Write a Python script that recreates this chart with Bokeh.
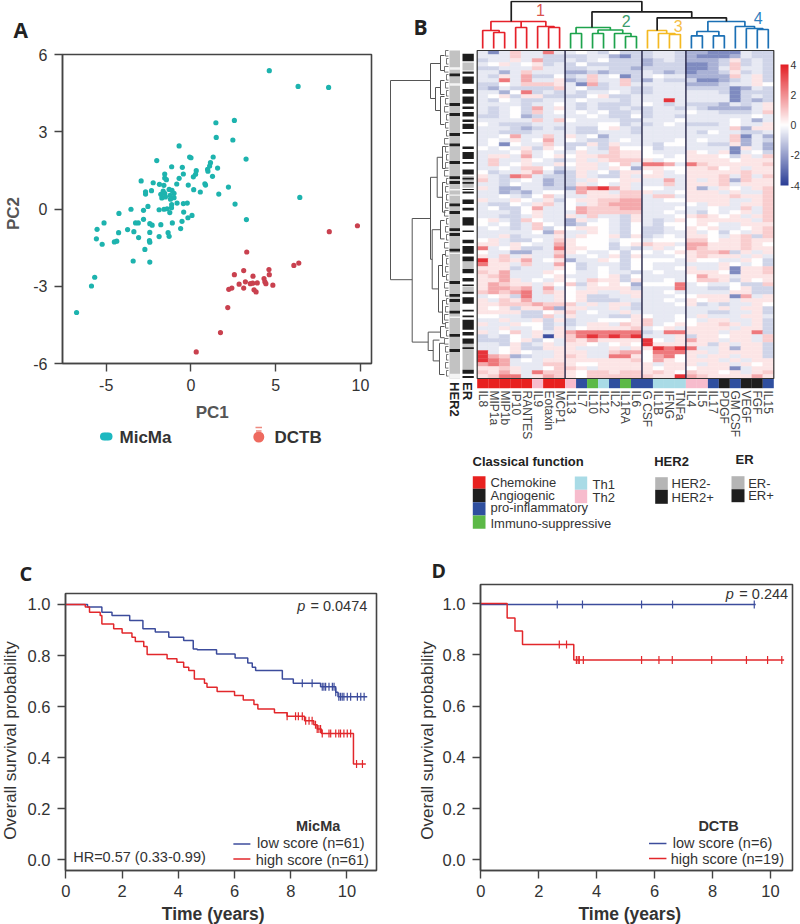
from math import pi
import numpy as np
from bokeh.plotting import figure
from bokeh.layouts import column, row
from bokeh.models import Range1d, Label, FixedTicker, LinearColorMapper, ColorBar, ColumnDataSource, NumeralTickFormatter
from bokeh.core.properties import value
from bokeh.embed import file_html
from bokeh.resources import INLINE

FONT = "Liberation Sans"
HEAD = "Open Sans"
DARK = "#333333"

# ---------- Panel A ----------
MICMA_PC1 = [4.62,6.32,8.12,2.56,1.47,1.49,2.47,-0.70,3.25,1.31,-0.08,0,-2.02,-1.14,-0.51,1.15,1.10,1.57,0.98,1.00,0.31,0.27,0.14,-0.45,1.27,-1.55,-1.55,-1.45,-0.70,-2.94,-2.23,-1.86,-0.84,-0.16,0.82,0.86,2.21,0.16,0.55,1.64,-1.60,-2.68,-2.68,-2.33,-1.64,-1.29,-1.12,-1.00,-1.78,-1.55,-1.72,-1.51,-1.23,-1.00,-1.21,2.60,6.42,-0.82,-1.14,-0.45,-0.22,-2.54,-3.54,-4.25,-2.80,-1.88,-1.59,-1.41,-1.15,-1.25,-0.43,0.06,-0.18,3.27,-2.80,-5.13,-3.27,-3.11,-2.43,-2.29,-1.78,-1.10,-0.53,-5.54,-3.74,-3.37,-4.27,-2.43,-1.35,-0.61,-1.29,-1.88,-3.09,-5.58,-4.38,-4.52,-2.45,-2.43,-5.24,-2.72,-3.41,-2.43,-5.68,-5.87,-6.75]
MICMA_PC2 = [5.37,4.76,4.72,3.44,3.35,2.78,2.68,2.45,1.94,2.02,2.02,1.99,1.88,1.64,1.62,1.80,1.67,1.59,1.54,1.47,1.49,1.35,1.25,1.36,1.27,1.36,1.20,1.14,1.19,1.09,1.02,0.96,0.97,0.93,0.98,0.93,0.85,0.75,0.66,0.58,0.92,0.67,0.58,0.71,0.70,0.76,0.72,0.61,0.57,0.61,0.43,0.47,0.53,0.44,0.38,0.19,0.45,0.23,0.17,0.21,0.23,0.10,-0.01,-0.17,-0.05,-0.03,-0.01,0.01,0.05,-0.14,-0.12,-0.25,-0.34,-0.41,-0.40,-0.54,-0.54,-0.54,-0.57,-0.63,-0.61,-0.54,-0.48,-0.79,-0.80,-0.88,-0.92,-0.91,-0.92,-0.76,-1.06,-1.07,-1.11,-1.16,-1.25,-1.28,-1.23,-1.29,-1.37,-1.57,-2.02,-2.06,-2.65,-2.99,-4.02]
DCTB_PC1 = [9.82,8.16,3.29,6.36,6.07,4.60,3.11,4.62,2.56,3.66,4.31,4.36,3.21,3.64,3.91,3.50,4.42,4.83,2.84,3.11,2.41,2.23,3.72,3.84,2.17,1.74,0.31]
DCTB_PC2 = [-0.65,-0.88,-1.67,-2.10,-2.19,-2.35,-2.39,-2.55,-2.55,-2.61,-2.70,-2.83,-2.83,-2.88,-2.87,-2.90,-2.90,-2.96,-2.92,-3.07,-3.07,-3.12,-3.14,-3.22,-3.83,-4.80,-5.55]

# ---------- Panel B ----------
CYTOKINES = ["IL8","MIP1a","MIP1b","IP10","RANTES","IL9","Eotaxin","MCP1","IL13","IL7","IL10","IL12","IL2","IL1RA","IL6","G CSF","IL1B","IFNG","TNFa","IL4","IL5","IL17","PDGF","GM CSF","VEGF","FGF","IL15"]
FUNCTION = ["chem","chem","chem","chem","chem","th2","chem","chem","th2","pro","imm","th1","pro","imm","pro","pro","th1","th1","th1","th2","th2","pro","ang","pro","ang","ang","pro"]
FUNCTION_COLOR = {"chem":"#e8211f","ang":"#1e1e1e","pro":"#2f4f9f","imm":"#5cb947","th1":"#a9dbe6","th2":"#f7bccd"}
LEVEL = {".":0.0,"a":0.45,"b":0.9,"c":1.5,"d":2.4,"e":3.6,"A":-0.45,"B":-0.9,"C":-1.6,"D":-2.4,"E":-3.6}
HEATMAP_ROWS = [
"ADAbAAdA A.AB.BB BAAB CCDDDABB",
"AAAbAABB BBAACDB BAAB CDDDCABB",
"BAAaAcBB ABA.BBB CBAB CCCBaBAB",
"A.aA.aBA B.BBBBB CBBB DDCBbBAB",
"BBAAAbAA BBAABBC BBBB DDCAbAAB",
"AACAbAAA CCBCBBB ABCB DCCBaBAB",
"ABaAcBB. BAbA.DB A.AA CCCCbAaB",
"AAdAcAAa CBbAAbB CABB BDDCBAaB",
"BB.Abbba ADcBAbA AAAA CCCBAAa.",
"BCABBBBb A.BBAAB BAAA BBBBDCAB",
"AAC.dBAB ABAA.AB BAAA AAABDBBB",
"A.aBaaBB BB.aBBA AAAA AAAADBAB",
"AB.ABBAA A.AAABA AAeA AAAADBCB",
"AAAABAA. ABABBBA .ABA BBBCABAa",
"ABA.BcAa ABABBAB BAAB ABCCCCAa",
"ABA.BbA. A.A.BBA BAAA .AABBBAb",
"BBA.CBAA AA.ABB. BAAB AAAAAA.A",
"AAAAAbAb .AAAABB AAA. AAAA.ACA",
".ABBBAAA AAA..BA BA.A BBBA.AAa",
"AAABCBAB ABB.aAB AAAA AAAAbCaa",
"AABBBAAA ABBAAAB AAAA AB.AABBA",
"AA.cAAbA aA.CAAA AAAA AAAAbDAC",
"A.AaA.cA .ABBA.A AAA. A.AAbCAB",
"A.D.AAbA BBaBaAA AB.. AABBaCAC",
".A.AaBa. B.ABb.. .BAA AAAADaAC",
"AAA.bA.A AaAAbaa .AAA a.AaDA.B",
"AaaAcA.a .aabbaa ..A. aaa.BaAb",
"AbAAa.AB AaAabbb aA.. aaaa.aaa",
"AbA.aAAa .aaA.bA ddcA dbaaaaab",
"AA.Abb.B AaaAa.C aa.. aab.aAaa",
".BAAacAC BaA.Baa .aA. aaaaabaa",
"aABdcABB BaABBaA aaAA aaabAbAb",
"bABA.ACB BAa..aa AAcA aAabCbaa",
"AAB.AACB BaA.AaA AAbA aaabAaaa",
"aACCAABB CcdecaA ..AA aCAa.Aab",
"AACBCA.. AcaaAbb aAA. aaaAaAAb",
"AA.AB.bA AAaaabb AbbA aaaabaab",
"aAAa.AaB .aabbcc AA.. aaaaAAab",
"ABB.AabA .Aabccc AAAA .AaaAaab",
"A.BB.cAA .cbbbcc AAA. AA.AAbAb",
"AAAB.aAA Acbbbbb AA.A AB.A.aAb",
"AABBAaAA aAbAABa AAA. aba.aAab",
".aABb.AA CaA.ABa ABAa .aaaaaAb",
".A.BAb.A CB..AB. AB.. .a.AAaaa",
"A.ABAbB. .aa.AB. BBA. a.aAA.ab",
"AAAAA.Cb AAa.AB. BBAA aA.B.Aab",
"AAaBAAAa Aa..aBa BA.A aa.AabBb",
".aABB.Ab a...A.. A... bb.aabaa",
"aaAa.AAc a...B.a baaA ccaaaba.",
"dA.aBBAd aa..BAB AaA. cbaaabaa",
".AACCAAb a.AA.B. .A.a abbcBaAa",
"aAbAaAAc AA.AaBa AAA. abaaaAaA",
"eabacA.a CAAa.B. ...A a..AAa.B",
"daaAbAAc .BAAAB. .AAA AAAa.A.B",
"aaaBAAAa .BA.AB. .AA. aAAaDaab",
"bacAAAa. .AA.AAB A.AA aaa.Daab",
"abcAAA.a AAA.aB. AAAA .caaAaaa",
"aacaA.Aa .AbaaBa AA.A .bbaBa.a",
"acbaaAa. bBa.a.C ...d A.AA.BBb",
"accbcAcA .AaaaaB AAAd AABB.aBB",
"bcbcdAba .aaAAaa AA.A AAAAaaBB",
"A.aBdAAa .aBBAAa AAA. .aaaDcAa",
"aAbacAAa .aBBBAA AA.A a.aaAaaa",
"aabbbcbb bAaAaaB AAA. aBABAAa.",
"a.aBaacC aaAAaAB AAAA AAAaAaaB",
"aaaaBB.a bA.AAaA AAAA AABBAAaB",
"..AABBbA aAAABBa .AA. AaAAAaaA",
"AAaAAaBa BAA...a bAA. .AaaAAaB",
"aAAa..BA BAaaAba bA.a .aabaAaB",
"AAaAA.Ba A.aaaab A.aA aaaaAaaB",
"aA.bAaAa cdddddd BAdd aaaAaadB",
"BAB.AaEa bdedede AAAa Baa.aaAb",
"BBB.aB.A bacaaaa e.Aa caaAaaAb",
"AABaBAaA aa.A.a. eaaa aaBaAaaB",
"AA.aBBaa aAAAaAa aede dAAaCaaB",
"eA.a.AAa aaAAbcc .ddd aaAaaaaB",
"ecbCBAAa baAAdda .cd. aAaaAaaB",
"edcA.Aaa aaaaaab .ca. aaaAaAaa",
"cdcAAAbb a..aaaa aAaa aAaaAa.a",
"aabaAA.b baAaaaa a.aa .aaaDAaa",
"bacaAdbb a.bbabb aba. baa.aAab",
"abddAacb a.bbbbb baae cbaaaaca",
]
CLUSTER_BOUNDS = [8, 15, 19]
CLUSTER_NAMES = ["1","2","3","4"]
CLUSTER_NAME_COLORS = ["#d9534f","#3a9d6d","#f5c04a","#2f7fc1"]
DENDRO_RED = [(1,2,16,0,0),(0,1.5,18,0,16),(3,4,21,0,0),(6,7,21,0,0),(5,6.5,22,0,21),(0.75,5.75,27,18,22),(3.5,3.5,27,21,21)]
DENDRO_GREEN = [(8,9,15,0,0),(10,11,15,0,0),(13,14,12,0,0),(12,13.5,15,0,12),(10.5,12.75,18.5,15,15),(8.5,11.62,21,15,18.5)]
DENDRO_YELLOW = [(17,18,14,0,0),(16,17.5,15,0,14),(15,16.75,18,0,15)]
DENDRO_BLUE = [(19,20,12.7,0,0),(21,22,12.7,0,0),(19.5,21.5,17,12.7,12.7),(25,26,19,0,0),(24,25.5,20,0,19),(23,24.75,22,0,20),(20.5,23.87,27,17,22)]
DENDRO_BLACK = [(15.88,22.19,30.7,18,27),(9.95,19.03,36.7,21,30.7),(2.6,14.49,47,27,36.7)]
ROW_TREE = [(58,7.5,57.3,18,36.3),(18,3.25,12,8,13),(8,1.25,5,4,4),(13,9.25,15,8,8),(8,7.5,11,4,4),(8,11.5,18.5,4,4),
            (36.3,42,72.9,18,20.3),(18,31.7,52.2,11.3,16.3),(11.3,26.7,36.7,6,6),(6,24,29.5,3,3),(6,33,40.4,3,3),
            (16.3,44.8,59.6,8,10),(8,42.5,47.1,4,4),(10,53.75,65.4,6,6),(6,51,56.5,3,3),(6,62.5,68.3,3,3),
            (20.3,70.4,75,8,15.3),(8,69,71.8,4,4),(15.3,72.4,77.6,9,9),(9,73.2,81,4,4)]
LEAF_H = [3,2,4,2,3,2,3,4,2,3,2,4,3,2,3,4,2,3,2,3,4,2,3,2,4,3,2,3,2,4,3,2,3,4,3,2,4,3,2,3,2]
HER2_POS = [6.1,13.5,16,21,23.6,28,31.8,33,38.6,40.5,44.8,46,49.9,58,61.2,62.5,65.4,71.2,75]
HER2_GAPS = [(4.2,4.8),(8.2,8.8),(34.6,35),(36,36.3),(50.6,50.9),(66.5,66.9),(80.8,82)]
ER_GRAY = [(3,5),(31.4,34.3),(52.7,54.6),(59,60.3),(73.3,79.8)]
ER_BLACK = [(0.8,2.7),(5.25,5.8),(6.5,8.3),(9.6,10.8),(11.5,13.3),(14,14.6),(15.4,16.5),(17.25,17.9),(18.3,19.6),(20.4,20.8),(24,24.6),(25.4,27.1),(27.9,28.3),(29.75,31),(31.8,32.25),(32.9,33.3),(34.6,34.9),(35.25,35.75),(37.25,38.4),(39.3,40),(41.7,43.75),(45,45.4),(47.3,48.2),(48.9,50.8),(51.5,52.7),(54.6,55.7),(56.9,57.75),(58.5,58.9),(60.3,60.8),(61.7,63.3),(64.8,65.25),(66.25,66.7),(67.3,69.8),(70.4,71.25),(72,73.3),(74.2,74.6),(79.8,80.8),(81.4,81.9)]

# ---------- Panels C, D ----------
C_LOW_T = [0,0.77,1.28,1.64,2.27,2.74,3.18,3.66,4.19,4.53,4.67,5.36,6.02,6.47,6.63,6.75,7.70,8.09,9.06,9.60,9.68]
C_LOW_S = [1,0.99,0.97,0.957,0.937,0.905,0.892,0.872,0.859,0.826,0.823,0.806,0.79,0.771,0.754,0.741,0.708,0.691,0.678,0.656,0.639]
C_LOW_CENSOR = [8.41,8.76,9.12,9.18,9.24,9.36,9.48,9.54,9.60,9.71,9.77,9.83,9.89,10.01,10.13,10.37,10.49,10.61]
C_HIGH_T = [0,0.69,0.84,1.22,1.28,1.70,2.0,2.35,2.47,2.77,2.89,3.6,3.95,4.19,4.37,4.57,4.93,5.02,5.38,6.0,6.31,6.69,6.83,7.42,7.87,8.49,8.82,8.94,9.09,10.23]
C_HIGH_S = [1,0.99,0.97,0.957,0.924,0.905,0.888,0.872,0.855,0.835,0.804,0.787,0.774,0.754,0.741,0.708,0.691,0.676,0.659,0.643,0.626,0.608,0.591,0.576,0.562,0.545,0.529,0.512,0.495,0.375]
C_HIGH_CENSOR = [7.87,8.17,8.27,8.41,8.53,8.65,8.76,8.88,8.94,9.0,9.06,9.12,9.36,9.42,9.60,9.71,9.77,9.89,10.01,10.13,10.34,10.55]
D_LOW_T = [0]
D_LOW_S = [0.997]
D_LOW_CENSOR = [2.64,3.51,5.55,6.62,9.44]
D_HIGH_T = [0,0.91,1.18,1.44,3.21]
D_HIGH_S = [1,0.944,0.893,0.84,0.78]
D_HIGH_CENSOR = [2.71,2.96,3.30,3.36,3.40,3.54,5.55,6.15,6.61,7.97,9.17,9.90,10.39]
KM_TICKS_X = [0,2,4,6,8,10]
KM_TICKS_Y = [0,0.2,0.4,0.6,0.8,1.0]
BLUE = "#3c4c9c"
RED = "#e2272b"

def txt(p, x, y, s, size, bold=False, italic=False, color=DARK, align="left", angle=0, font=FONT):
    style = "bold italic" if bold and italic else "bold" if bold else "italic" if italic else "normal"
    p.add_layout(Label(x=x, y=y, text=s, text_font=font, text_font_size=f"{size}px", text_font_style=style,
                       text_color=color, text_align=align, text_baseline="middle", angle=angle, angle_units="rad"))

def strip(x0, y0, w, h):
    """A bare figure covering a page region; its data units are page pixels."""
    s = figure(width=w, height=h, x_range=Range1d(x0, x0+w), y_range=Range1d(y0+h, y0), output_backend="svg", toolbar_location=None,
               min_border=0, outline_line_color=None, frame_align=False)
    s.axis.visible = False; s.grid.visible = False
    return s

def style_axes(p, xt, yt, fs, stand_x, stand_y):
    p.xgrid.visible = False; p.ygrid.visible = False
    p.outline_line_color = "#444444"; p.outline_line_width = 1.6
    for ax, t, st in ((p.xaxis[0], xt, stand_x), (p.yaxis[0], yt, stand_y)):
        ax.ticker = FixedTicker(ticks=t)
        ax.minor_tick_line_color = None
        ax.major_tick_in = 0; ax.major_tick_out = 8
        ax.major_tick_line_color = "#444444"; ax.major_tick_line_width = 1.4
        ax.axis_line_color = "#444444"; ax.axis_line_width = 1.4
        ax.major_label_text_font = FONT
        ax.major_label_text_font_size = f"{fs}px"
        ax.major_label_text_color = DARK
        ax.major_label_standoff = st

# ---------- A ----------
pA = figure(width=350, height=400, x_range=Range1d(-7.58,10.65), y_range=Range1d(-6,6), output_backend="svg", toolbar_location=None,
            min_border_left=30, min_border_right=9, min_border_top=54, min_border_bottom=37, frame_align=False)
style_axes(pA, [-5,0,5,10], [-6,-3,0,3,6], 16, 7, 7)
pA.xaxis[0].major_label_overrides = {-5:"-5"}
pA.yaxis[0].major_label_overrides = {-6:"-6", -3:"-3"}
pA.scatter(MICMA_PC1, MICMA_PC2, size=5.2, fill_color="#1db3ae", line_color=None)
pA.scatter(DCTB_PC1, DCTB_PC2, size=5.2, fill_color="#c9414f", line_color=None)
sA = strip(0, 0, 30, 400)
txt(sA, 13, 29, "A", 21, bold=True, font=HEAD, color="#222222")
txt(sA, 13, 213, "PC2", 17, bold=True, color="#555555", align="center", angle=pi/2)

pL = strip(0, 400, 380, 155)
txt(pL, 211.7, 412, "PC1", 17, bold=True, color="#555555", align="center")
pL.scatter([103.5,105.7,108], [436,436,436], size=8, fill_color="#1db8c0", line_color=None)
pL.scatter([258.3], [436.5], size=11, fill_color="#ee6a5f", line_color=None)
pL.segment([255,255.5], [427,430.5], [261.5,261], [427,430.5], line_color="#ee8a80", line_width=1.4)
txt(pL, 119, 437, "MicMa", 17, bold=True)
txt(pL, 274, 437, "DCTB", 17, bold=True)

# ---------- B ----------
CW = 10.985; RH = 4.0; N_ROWS = len(HEATMAP_ROWS); N_COLS = len(CYTOKINES)
X = lambda px: (px-476.7)/CW
Y = lambda py: (py-50)/RH
pB = figure(width=420, height=555, x_range=Range1d(X(380),X(800)), y_range=Range1d(Y(555),Y(0)), output_backend="svg", toolbar_location=None,
            min_border=0, outline_line_color=None, frame_align=False)
pB.axis.visible = False; pB.grid.visible = False

palette = []
for i in range(256):
    f = i/255*2-1
    lo, hi = np.array([0x2a,0x3d,0x96]), np.array([0xe3,0x1e,0x24])
    c = 255+(lo-255)*(-f) if f < 0 else 255+(hi-255)*f
    palette.append("#%02x%02x%02x" % tuple(int(round(v)) for v in c))
mapper = LinearColorMapper(palette=palette, low=-4, high=4)

hx, hy, hv = [], [], []
for r, line in enumerate(HEATMAP_ROWS):
    cells = line.replace(" ", "")
    assert len(cells) == N_COLS, (r, len(cells))
    for c, ch in enumerate(cells):
        hx.append(c+0.5); hy.append(r+0.5); hv.append(LEVEL[ch])
src = ColumnDataSource(dict(x=hx, y=hy, v=hv))
cmap = {"field":"v", "transform":mapper}
pB.rect("x", "y", width=1, height=1, source=src, fill_color=cmap, line_color=cmap, line_width=0.4)

pB.quad(left=[0], right=[N_COLS], top=[0], bottom=[N_ROWS], fill_color=None, line_color="#333333", line_width=1.2)
pB.segment(CLUSTER_BOUNDS, [0]*3, CLUSTER_BOUNDS, [N_ROWS]*3, line_color="#222244", line_width=1.4)

strip_top, strip_bot = Y(378.5), Y(387.7)
pB.quad(left=list(range(N_COLS)), right=[i+1 for i in range(N_COLS)], top=[strip_top]*N_COLS, bottom=[strip_bot]*N_COLS,
        fill_color=[FUNCTION_COLOR[f] for f in FUNCTION], line_color=None)
pB.text([i+0.5 for i in range(N_COLS)], [Y(390)]*N_COLS, text=CYTOKINES, angle=-pi/2, text_align="left", text_baseline="middle",
        text_font=value(FONT), text_font_size="12px", text_color="#444444")

def draw_col_tree(merges, color):
    tx = lambda c: c+0.5
    ty = lambda h: -0.5-h/RH
    for a, b, h, ha, hb in merges:
        pB.line([tx(a),tx(a),tx(b),tx(b)], [ty(ha),ty(h),ty(h),ty(hb)], line_color=color, line_width=1.7)
draw_col_tree(DENDRO_RED, "#e6212a")
draw_col_tree(DENDRO_GREEN, "#1da34c")
draw_col_tree(DENDRO_YELLOW, "#f4b921")
draw_col_tree(DENDRO_BLUE, "#1b70b5")
draw_col_tree(DENDRO_BLACK, "#1e1e1e")
for name, col, px, py in zip(CLUSTER_NAMES, CLUSTER_NAME_COLORS, [540,625.7,677.7,757.7], [9,20,25,17]):
    txt(pB, X(px), Y(py), name, 16, color=col, align="center")

hl, hr = X(449), X(459.5)
el, er_ = X(462), X(473.3)
pB.quad(left=[hl], right=[hr], top=[0], bottom=[N_ROWS], fill_color="#c2c2c2", line_color=None)
pB.quad(left=[hl]*len(HER2_GAPS), right=[hr]*len(HER2_GAPS), top=[g[0] for g in HER2_GAPS], bottom=[g[1] for g in HER2_GAPS], fill_color="#f4f4f4", line_color=None)
pB.quad(left=[hl]*len(HER2_POS), right=[hr]*len(HER2_POS), top=[p-0.35 for p in HER2_POS], bottom=[p+0.35 for p in HER2_POS], fill_color="#1e1e1e", line_color=None)
pB.quad(left=[el]*len(ER_GRAY), right=[er_]*len(ER_GRAY), top=[g[0] for g in ER_GRAY], bottom=[g[1] for g in ER_GRAY], fill_color="#c2c2c2", line_color=None)
pB.quad(left=[el]*len(ER_BLACK), right=[er_]*len(ER_BLACK), top=[g[0] for g in ER_BLACK], bottom=[g[1] for g in ER_BLACK], fill_color="#1e1e1e", line_color=None)
txt(pB, X(453.5), Y(381.5), "HER2", 13, bold=True, angle=-pi/2, color="#222222")
txt(pB, X(466.5), Y(381.5), "ER", 13, bold=True, angle=-pi/2, color="#222222")

RT = lambda h: X(448-h)
for h, r1, r2, h1, h2 in ROW_TREE:
    pB.line([RT(h1),RT(h),RT(h),RT(h2)], [r1,r1,r2,r2], line_color="#555555", line_width=1)
for i, h in enumerate(LEAF_H):
    r = i*2
    pB.line([RT(0),RT(h),RT(h),RT(0)], [r,r,r+1.4,r+1.4], line_color="#555555", line_width=0.8)

cb = ColorBar(color_mapper=mapper, width=8, height=121, location=(400,370), padding=0, margin=0,
              ticker=FixedTicker(ticks=[-4,-2,0,2,4]), major_tick_line_color=None, bar_line_color=None,
              major_label_overrides={-4:"-4", -2:"-2", 0:"0", 2:"2", 4:"4"},
              major_label_text_font=FONT, major_label_text_font_size="10.5px", major_label_text_color=DARK, label_standoff=2,
              background_fill_color=None, border_line_color=None)
pB.add_layout(cb)

def swatch(x0, x1, y0, y1, color):
    pB.quad(left=[X(x0)], right=[X(x1)], top=[Y(y0)], bottom=[Y(y1)], fill_color=color, line_color=None)
txt(pB, X(472), Y(460.7), "Classical function", 13, bold=True, color="#222222")
for (y0,y1,c) in [(475.7,488.3,"#e8211f"),(488.3,501.7,"#1e1e1e"),(501.7,515,"#2f4f9f"),(515,528.3,"#5cb947")]:
    swatch(472.3,485,y0,y1,c)
for (y0,y1,c) in [(476,489.3,"#a9dbe6"),(489.3,502.7,"#f7bccd")]:
    swatch(574.3,586.7,y0,y1,c)
for (s,y) in [("Chemokine",482),("Angiogenic",495.3),("pro-inflammatory",507.3),("Immuno-suppressive",522.7)]:
    txt(pB, X(490), Y(y), s, 13)
txt(pB, X(592), Y(483.7), "Th1", 13); txt(pB, X(592), Y(496.7), "Th2", 13)
txt(pB, X(653.7), Y(461.3), "HER2", 13, bold=True, color="#222222")
swatch(654.7,667.3,476.7,489.3,"#b5b5b5"); swatch(654.7,667.3,489.3,503.3,"#1e1e1e")
txt(pB, X(671), Y(483.3), "HER2-", 13); txt(pB, X(671), Y(497.3), "HER2+", 13)
txt(pB, X(735), Y(458.7), "ER", 13, bold=True, color="#222222")
swatch(731,744,475.7,488.7,"#b5b5b5"); swatch(731,744,488.7,501.7,"#1e1e1e")
txt(pB, X(747.7), Y(482.7), "ER-", 13); txt(pB, X(747.7), Y(495.3), "ER+", 13)
txt(pB, X(413), Y(26), "B", 21, bold=True, font=HEAD, color="#222222")

def km(p, t, s, end, censor, color):
    p.step(list(t)+[end], list(s)+[s[-1]], mode="after", line_color=color, line_width=1.5)
    t_arr = np.array(t); s_arr = np.array(s)
    cs = s_arr[np.searchsorted(t_arr, censor, side="right")-1]
    p.scatter(censor, cs, marker="dash", angle=pi/2, size=8, line_color=color, line_width=1.2)

# ---------- C ----------
pC = figure(width=376, height=309, x_range=Range1d(-0.014,11.05), y_range=Range1d(-0.042,1.043), output_backend="svg", toolbar_location=None,
            min_border_left=41, min_border_right=24, min_border_top=2, min_border_bottom=30, frame_align=False)
style_axes(pC, KM_TICKS_X, KM_TICKS_Y, 16.5, 6, 7)
pC.yaxis[0].formatter = NumeralTickFormatter(format="0.0")
km(pC, C_LOW_T, C_LOW_S, 10.72, C_LOW_CENSOR, BLUE)
km(pC, C_HIGH_T, C_HIGH_S, 10.67, C_HIGH_CENSOR, RED)
cx = lambda px: (px-65.7)/28.08
cy = lambda py: (859-py)/255.3
tC = strip(0, 555, 400, 36)
txt(tC, 19, 573, "C", 20, bold=True, font=HEAD, color="#222222")
lC = strip(0, 591, 24, 309)
txt(lC, 10, 740, "Overall survival probability", 17, align="center", angle=pi/2)
bC = strip(0, 900, 400, 24)
txt(bC, 212.7, 913, "Time (years)", 17.5, bold=True, align="center")
txt(pC, cx(296.7), cy(605), "p", 14.5, italic=True)
txt(pC, cx(310), cy(605), "= 0.0474", 14.5)
txt(pC, cx(317.7), cy(825.7), "MicMa", 14.5, bold=True, align="center")
txt(pC, cx(256.7), cy(842.7), "low score (n=61)", 14.5)
txt(pC, cx(255.3), cy(859), "high score (n=61)", 14.5)
txt(pC, cx(73), cy(856.7), "HR=0.57 (0.33-0.99)", 14.5)
pC.segment([cx(233),cx(233)], [cy(843.3),cy(858.3)], [cx(250),cx(250)], [cy(843.3),cy(858.3)], line_color=[BLUE,RED], line_width=1.5)

# ---------- D ----------
pD = figure(width=362, height=317, x_range=Range1d(-0.01,10.76), y_range=Range1d(-0.0414,1.0746), output_backend="svg", toolbar_location=None,
            min_border_left=42, min_border_right=8, min_border_top=1, min_border_bottom=30, frame_align=False)
style_axes(pD, KM_TICKS_X, KM_TICKS_Y, 16.5, 6, 7)
pD.yaxis[0].formatter = NumeralTickFormatter(format="0.0")
km(pD, D_LOW_T, D_LOW_S, 9.49, D_LOW_CENSOR, BLUE)
km(pD, D_HIGH_T, D_HIGH_S, 10.47, D_HIGH_CENSOR, RED)
dx = lambda px: (px-480.3)/28.93
dy = lambda py: (859.7-py)/256
tD = strip(400, 555, 400, 28)
txt(tD, 431, 570, "D", 19.5, bold=True, font=HEAD, color="#222222")
lD = strip(400, 583, 38, 317)
txt(lD, 427.3, 740, "Overall survival probability", 17, align="center", angle=pi/2)
bD = strip(400, 900, 400, 24)
txt(bD, 629.3, 913, "Time (years)", 17.5, bold=True, align="center")
txt(pD, dx(725), dy(594.3), "p", 14.5, italic=True)
txt(pD, dx(738.5), dy(594.3), "= 0.244", 14.5)
txt(pD, dx(717.7), dy(825.7), "DCTB", 14.5, bold=True, align="center")
txt(pD, dx(672), dy(842.7), "low score (n=6)", 14.5)
txt(pD, dx(670), dy(859), "high score (n=19)", 14.5)
pD.segment([dx(648.3),dx(648.3)], [dy(843.3),dy(858.3)], [dx(665.7),dx(665.7)], [dy(843.3),dy(858.3)], line_color=[BLUE,RED], line_width=1.5)

top_left = column(row(sA, pA), pL)
bot_left = column(tC, row(lC, pC), bC)
bot_right = column(tD, row(lD, pD), bD)
root = column(row(top_left, pB), row(bot_left, bot_right))
open("out.html", "w").write(file_html(root, INLINE))
